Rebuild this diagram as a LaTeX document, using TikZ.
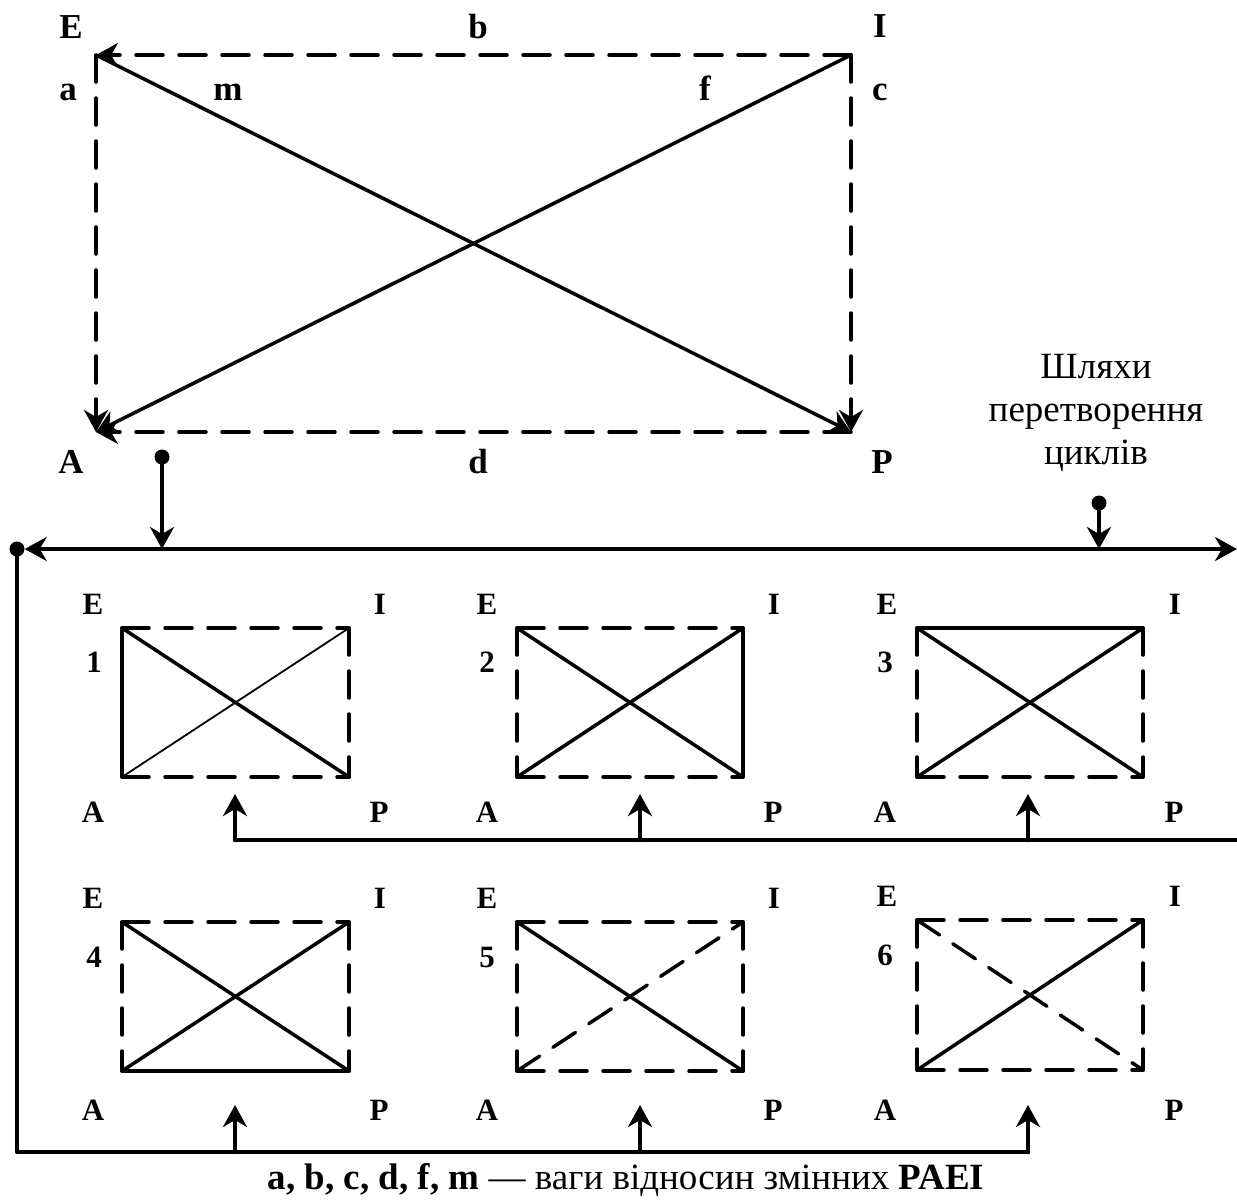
\documentclass[tikz,border=0pt]{standalone}
\usepackage{fontspec}
\setmainfont{Liberation Serif}
\usetikzlibrary{arrows.meta,positioning}

\begin{document}
\begin{tikzpicture}[x=1pt,y=-1pt,>={Stealth[length=22pt,width=24pt,inset=7pt]},line cap=round,line join=round]
\useasboundingbox (0,0) rectangle (1237,1200);
\tikzset{edge/.style={draw=black,line width=3.5pt},dashedge/.style={edge,dash pattern=on 27pt off 16pt},thinedge/.style={draw=black,line width=1.8pt},bus/.style={draw=black,line width=4.5pt},flow/.style={bus,->},pt/.style={circle,fill=black,inner sep=0pt,minimum size=15pt},lbl/.style={font=\bfseries\fontsize{35}{35}\selectfont},slbl/.style={font=\bfseries\fontsize{31}{31}\selectfont}}
\coordinate (E) at (96,55); \coordinate (I) at (851,55); \coordinate (A) at (96,432); \coordinate (P) at (851,432);
\draw[dashedge,->] (I) -- (E); \draw[dashedge,->] (E) -- (A); \draw[dashedge,->] (I) -- (P); \draw[dashedge,->] (P) -- (A);
\draw[edge,->] (I) -- (A); \draw[edge,->] (E) -- (P);
\node[lbl] (lE) at (71,27) {E}; \node[lbl] (lb) at (478,27) {b}; \node[lbl] (lI) at (880,26) {I};
\node[lbl] (la) at (68,92) {a}; \node[lbl] (lm) at (228,92) {m}; \node[lbl] (lf) at (705,88) {f}; \node[lbl] (lc) at (880,92) {c};
\node[lbl] (lA) at (71,462) {A}; \node[lbl] (ld) at (478,462) {d}; \node[lbl] (lP) at (882,462) {P};
\node[font=\fontsize{37}{43}\selectfont,align=center] (paths) at (1096,413) {Шляхи\\перетворення\\циклів};
\node[pt] (s1) at (162,457) {}; \coordinate (j1) at (162,549); \draw[flow] (s1) -- (j1);
\node[pt] (s2) at (1099,503) {}; \coordinate (j2) at (1099,549); \draw[flow] (s2) -- (j2);
\node[pt] (s0) at (17,549) {}; \coordinate (rt) at (1237,549); \draw[bus,<->] (s0) -- (rt);
\coordinate (bl) at (17,1152); \coordinate (br) at (1028,1152); \draw[bus] (s0) -- (bl) -- (br);
\coordinate (u1) at (235,1152); \coordinate (u2) at (640,1152); \coordinate (u3) at (1028,1152);
\coordinate (t1) at (235,1105); \coordinate (t2) at (640,1105); \coordinate (t3) at (1028,1105);
\draw[flow] (u1) -- (t1); \draw[flow] (u2) -- (t2); \draw[flow] (u3) -- (t3);
\coordinate (m1) at (235,840); \coordinate (m2) at (640,840); \coordinate (m3) at (1028,840); \coordinate (mr) at (1237,840);
\coordinate (n1) at (235,794); \coordinate (n2) at (640,794); \coordinate (n3) at (1028,794);
\draw[bus] (m1) -- (mr); \draw[flow] (m1) -- (n1); \draw[flow] (m2) -- (n2); \draw[flow] (m3) -- (n3);
% top row of cycles
\coordinate (e1) at (122,628); \coordinate (i1) at (349,628); \coordinate (a1) at (122,777); \coordinate (p1) at (349,777);
\draw[dashedge] (e1) -- (i1); \draw[dashedge] (i1) -- (p1); \draw[dashedge] (a1) -- (p1); \draw[edge] (e1) -- (a1);
\draw[edge] (e1) -- (p1); \draw[thinedge] (a1) -- (i1);
\node[slbl] (E1) at (93,604) {E}; \node[slbl] (I1) at (380,604) {I}; \node[slbl] (N1) at (94,662) {1}; \node[slbl] (A1) at (93,812) {A}; \node[slbl] (P1) at (379,812) {P};
\coordinate (e2) at (517,628); \coordinate (i2) at (743,628); \coordinate (a2) at (517,777); \coordinate (p2) at (743,777);
\draw[dashedge] (e2) -- (i2); \draw[dashedge] (e2) -- (a2); \draw[dashedge] (a2) -- (p2); \draw[edge] (i2) -- (p2);
\draw[edge] (e2) -- (p2); \draw[edge] (a2) -- (i2);
\node[slbl] (E2) at (487,604) {E}; \node[slbl] (I2) at (774,604) {I}; \node[slbl] (N2) at (487,662) {2}; \node[slbl] (A2) at (487,812) {A}; \node[slbl] (P2) at (773,812) {P};
\coordinate (e3) at (917,628); \coordinate (i3) at (1143,628); \coordinate (a3) at (917,777); \coordinate (p3) at (1143,777);
\draw[edge] (e3) -- (i3); \draw[dashedge] (e3) -- (a3); \draw[dashedge] (a3) -- (p3); \draw[dashedge] (i3) -- (p3);
\draw[edge] (e3) -- (p3); \draw[edge] (a3) -- (i3);
\node[slbl] (E3) at (887,604) {E}; \node[slbl] (I3) at (1175,604) {I}; \node[slbl] (N3) at (885,662) {3}; \node[slbl] (A3) at (885,812) {A}; \node[slbl] (P3) at (1174,812) {P};
% bottom row of cycles
\coordinate (e4) at (122,922); \coordinate (i4) at (349,922); \coordinate (a4) at (122,1071); \coordinate (p4) at (349,1071);
\draw[dashedge] (e4) -- (i4); \draw[dashedge] (e4) -- (a4); \draw[dashedge] (i4) -- (p4); \draw[edge] (a4) -- (p4);
\draw[edge] (e4) -- (p4); \draw[edge] (a4) -- (i4);
\node[slbl] (E4) at (93,898) {E}; \node[slbl] (I4) at (380,898) {I}; \node[slbl] (N4) at (94,957) {4}; \node[slbl] (A4) at (93,1110) {A}; \node[slbl] (P4) at (379,1110) {P};
\coordinate (e5) at (517,922); \coordinate (i5) at (743,922); \coordinate (a5) at (517,1071); \coordinate (p5) at (743,1071);
\draw[dashedge] (e5) -- (i5); \draw[dashedge] (e5) -- (a5); \draw[dashedge] (i5) -- (p5); \draw[dashedge] (a5) -- (p5);
\draw[edge] (e5) -- (p5); \draw[dashedge] (a5) -- (i5);
\node[slbl] (E5) at (487,898) {E}; \node[slbl] (I5) at (774,898) {I}; \node[slbl] (N5) at (487,957) {5}; \node[slbl] (A5) at (487,1110) {A}; \node[slbl] (P5) at (773,1110) {P};
\coordinate (e6) at (917,920); \coordinate (i6) at (1143,920); \coordinate (a6) at (917,1070); \coordinate (p6) at (1143,1070);
\draw[dashedge] (e6) -- (i6); \draw[dashedge] (e6) -- (a6); \draw[dashedge] (i6) -- (p6); \draw[dashedge] (a6) -- (p6);
\draw[dashedge] (e6) -- (p6); \draw[edge] (a6) -- (i6);
\node[slbl] (E6) at (887,896) {E}; \node[slbl] (I6) at (1175,896) {I}; \node[slbl] (N6) at (885,955) {6}; \node[slbl] (A6) at (885,1110) {A}; \node[slbl] (P6) at (1174,1110) {P};
\node[font=\fontsize{37}{37}\selectfont,anchor=base] (note) at (626,1189) {\textbf{a, b, c, d, f, m} — ваги відносин змінних \textbf{PAEI}};
\end{tikzpicture}
\end{document}
